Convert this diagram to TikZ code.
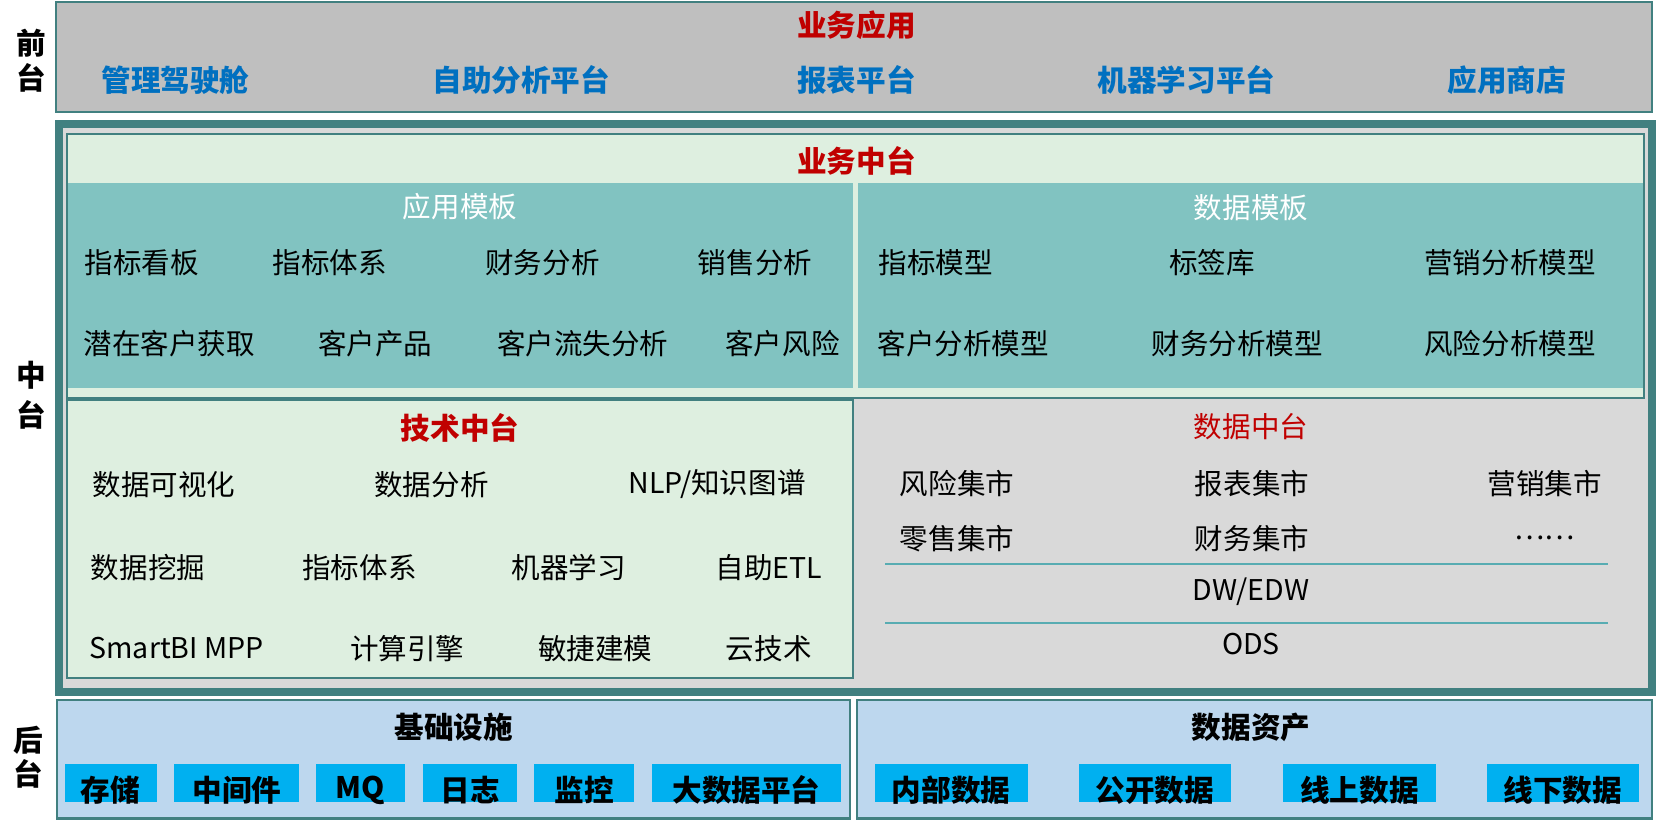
\documentclass[tikz,border=0pt]{standalone}
\usepackage{fontspec}
\setmainfont{Noto Sans CJK SC}
\definecolor{edgeteal}{RGB}{65,128,128}
\definecolor{frontgray}{RGB}{191,191,191}
\definecolor{midgray}{RGB}{217,217,217}
\definecolor{palegreen}{RGB}{222,239,224}
\definecolor{tealfill}{RGB}{129,195,193}
\definecolor{linkblue}{RGB}{0,112,192}
\definecolor{darkred}{RGB}{192,0,0}
\definecolor{paleblue}{RGB}{189,215,238}
\definecolor{chipcyan}{RGB}{0,176,240}
\definecolor{layerline}{RGB}{88,172,178}
\newcommand{\txtfont}{\fontsize{27}{31}\selectfont}
\newcommand{\boldfont}{\fontsize{28}{32}\selectfont\bfseries}
\begin{document}
\begin{tikzpicture}[x=1pt,y=-1pt,
  frame/.style={draw=edgeteal,line width=2pt},
  txt/.style={inner sep=0pt,font=\txtfont},
  head/.style={inner sep=0pt,font=\boldfont,text=darkred},
  bold/.style={inner sep=0pt,font=\boldfont},
  chip/.style={fill=chipcyan}]
\useasboundingbox (0,0) rectangle (1566,777);
% front
\node[bold] (qian) at (30,41) {前};
\node[bold] (tai1) at (30,74) {台};
\draw[frame,fill=frontgray] (53,2) rectangle (1562,106);
\node[head] (yewuyy) at (810,24) {业务应用};
\node[bold,text=linkblue] (cockpit) at (166,76) {管理驾驶舱};
\node[bold,text=linkblue] (selfana) at (493,76) {自助分析平台};
\node[bold,text=linkblue] (report) at (810,76) {报表平台};
\node[bold,text=linkblue] (mlplat) at (1122,76) {机器学习平台};
\node[bold,text=linkblue] (store) at (1425,76) {应用商店};
% middle
\node[bold] (zhong) at (30,355) {中};
\node[bold] (tai2) at (30,392) {台};
\draw[draw=edgeteal,line width=7.5pt,fill=midgray] (56,117.5) rectangle (1562,654.5);
\draw[frame,fill=palegreen] (63,127) rectangle (1555,376);
\node[head] (yewuzt) at (810,152) {业务中台};
\fill[tealfill] (64,173) rectangle (807,367);
\fill[tealfill] (811,173) rectangle (1554,367);
\node[txt,text=white] (apptpl) at (435,195) {应用模板};
\node[txt] (a1) at (134,248) {指标看板};
\node[txt] (a2) at (312,248) {指标体系};
\node[txt] (a3) at (513,248) {财务分析};
\node[txt] (a4) at (714,248) {销售分析};
\node[txt] (a5) at (160,325) {潜在客户获取};
\node[txt] (a6) at (355,325) {客户产品};
\node[txt] (a7) at (551,325) {客户流失分析};
\node[txt] (a8) at (740,325) {客户风险};
\node[txt,text=white] (datatpl) at (1183,196) {数据模板};
\node[txt] (d1) at (885,248) {指标模型};
\node[txt] (d2) at (1146,248) {标签库};
\node[txt] (d3) at (1428,248) {营销分析模型};
\node[txt] (d4) at (911,325) {客户分析模型};
\node[txt] (d5) at (1170,325) {财务分析模型};
\node[txt] (d6) at (1428,325) {风险分析模型};
% tech
\draw[frame,fill=palegreen] (63,378) rectangle (807,641);
\node[head] (jishuzt) at (435,405) {技术中台};
\node[txt] (t1) at (155,458) {数据可视化};
\node[txt] (t2) at (408,458) {数据分析};
\node[txt] (t3) at (678,458) {NLP/知识图谱};
\node[txt] (t4) at (140,537) {数据挖掘};
\node[txt] (t5) at (340,537) {指标体系};
\node[txt] (t6) at (538,537) {机器学习};
\node[txt] (t7) at (727,537) {自助ETL};
\node[txt] (t8) at (167,613) {SmartBI MPP};
\node[txt] (t9) at (385,613) {计算引擎};
\node[txt] (t10) at (563,613) {敏捷建模};
\node[txt] (t11) at (727,613) {云技术};
% data middle
\node[txt,text=darkred] (shujuzt) at (1183,403) {数据中台};
\node[txt] (m1) at (905,457) {风险集市};
\node[txt] (m2) at (1184,457) {报表集市};
\node[txt] (m3) at (1461,457) {营销集市};
\node[txt] (m4) at (905,509) {零售集市};
\node[txt] (m5) at (1184,509) {财务集市};
\node[txt] (m6) at (1461,509) {……};
\draw[layerline,line width=2pt] (837,533) -- (1521,533);
\node[txt] (dw) at (1183,560) {DW/EDW};
\draw[layerline,line width=2pt] (837,589) -- (1521,589);
\node[txt] (ods) at (1183,609) {ODS};
% back
\node[bold] (hou) at (27,700) {后};
\node[bold] (tai3) at (27,732) {台};
\draw[frame,fill=paleblue] (54,662) rectangle (804,774);
\node[bold] (infra) at (429,688) {基础设施};
\fill[chip] (61,722) rectangle (148,758);
\node[bold] (b1) at (104.5,747) {存储};
\fill[chip] (165,722) rectangle (283,758);
\node[bold] (b2) at (224,747) {中间件};
\fill[chip] (299,722) rectangle (383,758);
\node[bold] (b3) at (341,747) {MQ};
\fill[chip] (400,722) rectangle (489,758);
\node[bold] (b4) at (444.5,747) {日志};
\fill[chip] (505,722) rectangle (600,758);
\node[bold] (b5) at (552.5,747) {监控};
\fill[chip] (617,722) rectangle (795,758);
\node[bold] (b6) at (706,747) {大数据平台};
\draw[frame,fill=paleblue] (810,662) rectangle (1562,774);
\node[bold] (assets) at (1183,688) {数据资产};
\fill[chip] (827,722) rectangle (972,758);
\node[bold] (c1) at (899.5,747) {内部数据};
\fill[chip] (1020,722) rectangle (1164,758);
\node[bold] (c2) at (1092,747) {公开数据};
\fill[chip] (1213,722) rectangle (1358,758);
\node[bold] (c3) at (1285.5,747) {线上数据};
\fill[chip] (1406,722) rectangle (1550,758);
\node[bold] (c4) at (1478,747) {线下数据};
\end{tikzpicture}
\end{document}
